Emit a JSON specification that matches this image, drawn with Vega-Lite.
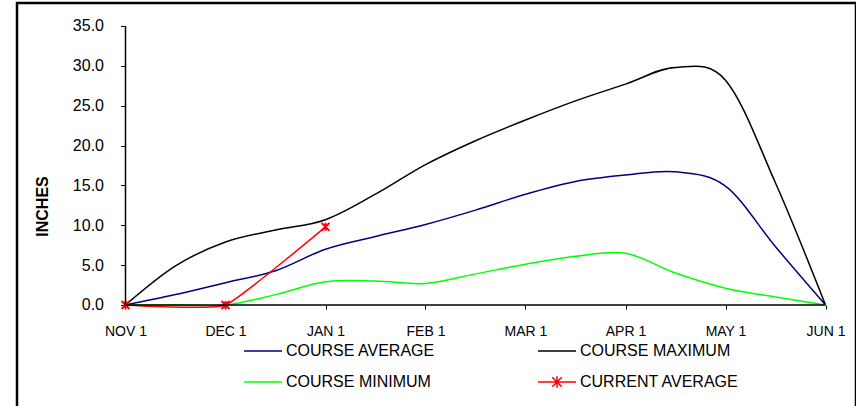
{
  "$schema": "https://vega.github.io/schema/vega-lite/v6.json",
  "width": 839,
  "height": 406,
  "autosize": "none",
  "padding": {"left": 17, "top": 3, "right": 0, "bottom": 0},
  "background": "white",
  "config": {
    "view": {"stroke": "black", "strokeWidth": 2.5},
    "font": "Liberation Sans"
  },
  "data": {
    "values": [
      {"t": 0, "s": "COURSE AVERAGE", "v": 0},
      {"t": 0.5, "s": "COURSE AVERAGE", "v": 1.3},
      {"t": 1, "s": "COURSE AVERAGE", "v": 2.8},
      {"t": 1.5, "s": "COURSE AVERAGE", "v": 4.3},
      {"t": 2, "s": "COURSE AVERAGE", "v": 7.0},
      {"t": 2.5, "s": "COURSE AVERAGE", "v": 8.6},
      {"t": 3, "s": "COURSE AVERAGE", "v": 10.1},
      {"t": 3.5, "s": "COURSE AVERAGE", "v": 11.9},
      {"t": 4, "s": "COURSE AVERAGE", "v": 13.9},
      {"t": 4.5, "s": "COURSE AVERAGE", "v": 15.5},
      {"t": 5, "s": "COURSE AVERAGE", "v": 16.3},
      {"t": 5.5, "s": "COURSE AVERAGE", "v": 16.7},
      {"t": 6, "s": "COURSE AVERAGE", "v": 14.9},
      {"t": 6.5, "s": "COURSE AVERAGE", "v": 7.3},
      {"t": 7, "s": "COURSE AVERAGE", "v": 0},
      {"t": 0, "s": "COURSE MAXIMUM", "v": 0},
      {"t": 0.5, "s": "COURSE MAXIMUM", "v": 4.9},
      {"t": 1, "s": "COURSE MAXIMUM", "v": 7.9},
      {"t": 1.5, "s": "COURSE MAXIMUM", "v": 9.4},
      {"t": 2, "s": "COURSE MAXIMUM", "v": 10.7},
      {"t": 2.5, "s": "COURSE MAXIMUM", "v": 13.9},
      {"t": 3, "s": "COURSE MAXIMUM", "v": 17.6},
      {"t": 3.5, "s": "COURSE MAXIMUM", "v": 20.6},
      {"t": 4, "s": "COURSE MAXIMUM", "v": 23.2},
      {"t": 4.5, "s": "COURSE MAXIMUM", "v": 25.6},
      {"t": 5, "s": "COURSE MAXIMUM", "v": 27.7},
      {"t": 5.5, "s": "COURSE MAXIMUM", "v": 29.8},
      {"t": 6, "s": "COURSE MAXIMUM", "v": 28.2},
      {"t": 6.5, "s": "COURSE MAXIMUM", "v": 15.3},
      {"t": 7, "s": "COURSE MAXIMUM", "v": 0},
      {"t": 0, "s": "COURSE MINIMUM", "v": 0},
      {"t": 0.5, "s": "COURSE MINIMUM", "v": 0},
      {"t": 1, "s": "COURSE MINIMUM", "v": 0},
      {"t": 1.5, "s": "COURSE MINIMUM", "v": 1.3},
      {"t": 2, "s": "COURSE MINIMUM", "v": 2.9},
      {"t": 2.5, "s": "COURSE MINIMUM", "v": 3.0},
      {"t": 3, "s": "COURSE MINIMUM", "v": 2.7},
      {"t": 3.5, "s": "COURSE MINIMUM", "v": 3.9},
      {"t": 4, "s": "COURSE MINIMUM", "v": 5.1},
      {"t": 4.5, "s": "COURSE MINIMUM", "v": 6.1},
      {"t": 5, "s": "COURSE MINIMUM", "v": 6.5},
      {"t": 5.5, "s": "COURSE MINIMUM", "v": 4.0},
      {"t": 6, "s": "COURSE MINIMUM", "v": 2.1},
      {"t": 6.5, "s": "COURSE MINIMUM", "v": 1.0},
      {"t": 7, "s": "COURSE MINIMUM", "v": 0},
      {"t": 0, "s": "CURRENT AVERAGE", "v": 0},
      {"t": 1, "s": "CURRENT AVERAGE", "v": 0},
      {"t": 2, "s": "CURRENT AVERAGE", "v": 9.8}
    ]
  },
  "layer": [
    {
      "transform": [{"filter": "datum.s !== 'CURRENT AVERAGE'"}],
      "mark": {"type": "line", "interpolate": "cardinal", "strokeWidth": 1.5},
      "encoding": {
        "x": {
          "field": "t",
          "type": "quantitative",
          "scale": {"domain": [-1.085, 7.305], "nice": false, "zero": false},
          "axis": {
            "title": null,
            "values": [0, 1, 2, 3, 4, 5, 6, 7],
            "labelExpr": "['NOV 1','DEC 1','JAN 1','FEB 1','MAR 1','APR 1','MAY 1','JUN 1'][datum.value]",
            "offset": -104,
            "domain": false,
            "grid": false,
            "tickSize": 4,
            "tickColor": "black",
            "labelPadding": 15,
            "labelFontSize": 14,
            "labelColor": "black",
            "labelFont": "Liberation Sans"
          }
        },
        "y": {
          "field": "v",
          "type": "quantitative",
          "scale": {"domain": [-13.05, 37.88], "nice": false, "zero": false},
          "axis": {
            "title": "INCHES",
            "titleFontSize": 16,
            "titleFontWeight": "bold",
            "titleColor": "black",
            "titleFont": "Liberation Sans",
            "titlePadding": 22,
            "values": [0, 5, 10, 15, 20, 25, 30, 35],
            "format": ".1f",
            "offset": -108.5,
            "domain": false,
            "grid": false,
            "tickSize": 5,
            "tickColor": "black",
            "labelPadding": 17,
            "labelFontSize": 16,
            "labelColor": "black",
            "labelFont": "Liberation Sans"
          }
        },
        "color": {
          "field": "s",
          "type": "nominal",
          "scale": {
            "domain": ["COURSE AVERAGE", "COURSE MAXIMUM", "COURSE MINIMUM", "CURRENT AVERAGE"],
            "range": ["#000080", "#000000", "#00FF00", "#FF0000"]
          },
          "legend": {
            "title": null,
            "orient": "none",
            "legendX": 226,
            "legendY": 328,
            "direction": "horizontal",
            "columns": 2,
            "columnPadding": 99,
            "rowPadding": 3,
            "symbolType": "stroke",
            "symbolSize": 1444,
            "symbolStrokeWidth": 1.5,
            "labelFontSize": 16,
            "labelFont": "Liberation Sans",
            "labelColor": "black",
            "labelOffset": 3,
            "labelLimit": 400,
            "encode": {
              "symbols": {
                "update": {
                  "shape": {"signal": "datum.value === 'CURRENT AVERAGE' ? 'M-1,0H1M-0.25,-0.25L0.25,0.25M-0.25,0.25L0.25,-0.25M0,-0.3V0.3' : 'stroke'"}
                }
              }
            }
          }
        }
      }
    },
    {
      "transform": [{"filter": "datum.s === 'CURRENT AVERAGE'"}],
      "mark": {"type": "line", "interpolate": "cardinal", "tension": 0.6, "strokeWidth": 1.5},
      "encoding": {
        "x": {"field": "t", "type": "quantitative"},
        "y": {"field": "v", "type": "quantitative"},
        "color": {"field": "s", "type": "nominal"}
      }
    },
    {
      "transform": [{"filter": "datum.s === 'CURRENT AVERAGE'"}],
      "mark": {
        "type": "point",
        "shape": "M-1,-1L1,1M-1,1L1,-1M0,-1V1",
        "size": 64,
        "filled": false,
        "stroke": "#FF0000",
        "strokeWidth": 2,
        "opacity": 1
      },
      "encoding": {
        "x": {"field": "t", "type": "quantitative"},
        "y": {"field": "v", "type": "quantitative"}
      }
    },
    {
      "data": {"values": [{}]},
      "mark": {"type": "rule", "color": "black", "strokeWidth": 1.5},
      "encoding": {
        "x": {"datum": 0, "type": "quantitative"},
        "x2": {"datum": 7},
        "y": {"datum": 0, "type": "quantitative"}
      }
    },
    {
      "data": {"values": [{}]},
      "mark": {"type": "rule", "color": "black", "strokeWidth": 1.5},
      "encoding": {
        "x": {"datum": 0, "type": "quantitative"},
        "y": {"datum": 0, "type": "quantitative"},
        "y2": {"datum": 35}
      }
    }
  ]
}
